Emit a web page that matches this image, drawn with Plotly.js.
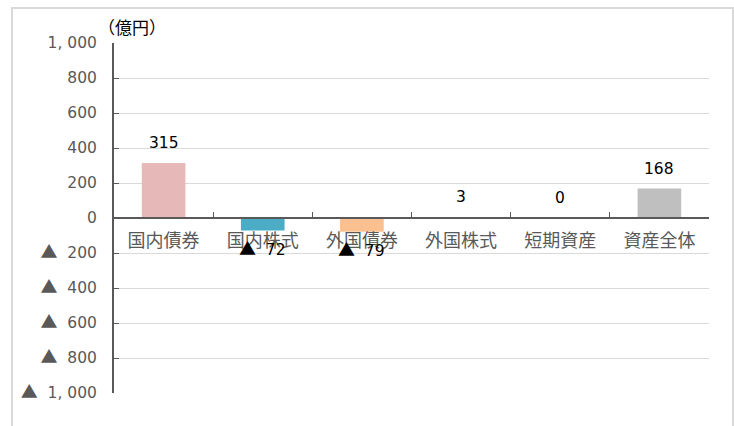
<!DOCTYPE html>
<html><head><meta charset="utf-8">
<script src="https://cdn.plot.ly/plotly-3.0.1.min.js"></script>
<style>body{margin:0;background:#fff}#c{width:734px;height:426px}</style>
</head><body><div id="c"></div>
<script>
const categories = ["国内債券","国内株式","外国債券","外国株式","短期資産","資産全体"];
const values = [315, -72, -79, 3, 0, 168];
const barColors = ["#E6B8B7","#4BACC6","#FAC090","#93CDDD","#C4BD97","#BFBFBF"];
const tickVals = [-1000,-800,-600,-400,-200,0,200,400,600,800,1000];
const tickText = ["▲ 1, 000","▲ 800","▲ 600","▲ 400","▲ 200","0","200","400","600","800","1, 000"];
const unitLabel = "（億円）";

const TRI = "<span style=\"font-family:'Noto Sans CJK JP';font-size:17px\">▲</span>&nbsp;";
function styleTri(s){ return s.replace("▲", TRI); }
function fmt(v){ return v < 0 ? "▲ " + Math.abs(v) : String(v); }

const numFont = "'DejaVu Sans', 'Noto Sans CJK JP', sans-serif";
const cjkFont = "'Noto Sans CJK JP', sans-serif";
const annotations = categories.map((c,i)=>({
  x: c, y: values[i], xref:'x', yref:'y', text: styleTri(fmt(values[i])), showarrow:false,
  yshift: values[i] < 0 ? -17 : 20, font:{family:numFont,size:15.5,color:'#000'}
}));
annotations.push({xref:'paper',yref:'paper',x:-0.03,y:1.0,yshift:17,xanchor:'left',yanchor:'middle',
  text:unitLabel,showarrow:false,font:{family:cjkFont,size:17,color:'#000'}});

const data = [{
  type:'bar', x:categories, y:values, marker:{color:barColors}, hoverinfo:'none'
}];
const layout = {
  width:734, height:426,
  margin:{l:114, r:25, t:43, b:33},
  paper_bgcolor:'#fff', plot_bgcolor:'#fff',
  bargap:0.56, showlegend:false,
  font:{family:numFont},
  xaxis:{type:'category', anchor:'free', position:0.5, showline:true, linecolor:'#595959', linewidth:2,
    ticks:'inside', ticklen:5, tickcolor:'#595959', tickson:'boundaries', showgrid:false,
    tickfont:{family:cjkFont,size:18,color:'#595959'}, ticklabelstandoff:6, fixedrange:true},
  yaxis:{range:[-1000,1000], tickvals:tickVals, ticktext:tickText.map(styleTri), showline:true, linecolor:'#595959', linewidth:2,
    ticks:'inside', ticklen:5, tickcolor:'#595959', gridcolor:'#D9D9D9', gridwidth:1, zeroline:false,
    tickfont:{family:numFont,size:15.5,color:'#595959'}, ticklabelstandoff:12, fixedrange:true},
  annotations: annotations,
  shapes:[{type:'rect', xref:'paper', yref:'paper', x0:-0.1714, x1:1.0403, y0:-0.2, y1:1.1,
    line:{color:'#D9D9D9', width:2}, fillcolor:'rgba(0,0,0,0)', layer:'below'}]
};
Plotly.newPlot('c', data, layout, {displayModeBar:false, staticPlot:true});
</script></body></html>
